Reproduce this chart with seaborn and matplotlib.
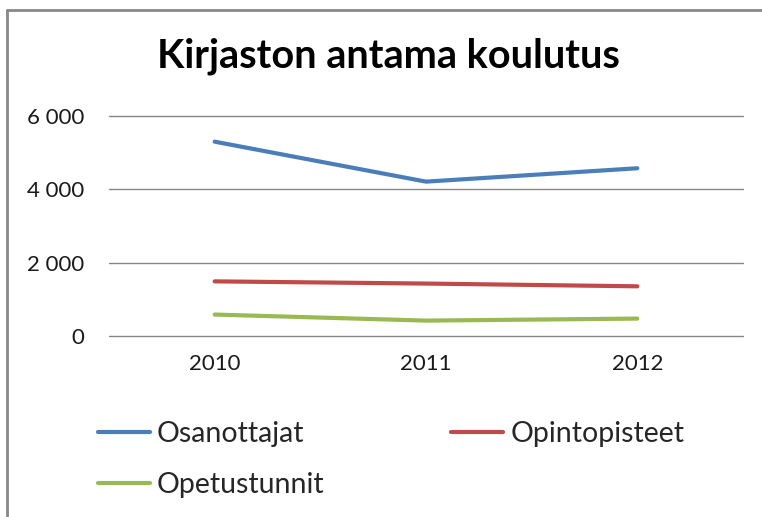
import pandas as pd
import matplotlib.pyplot as plt
import matplotlib.ticker as mticker
from matplotlib.lines import Line2D
import seaborn as sns

# ── Data ──────────────────────────────────────────────────────────────────────
years = [2010, 2011, 2012]
osanottajat = [5300, 4210, 4575]
opintopisteet = [1490, 1430, 1355]
opetustunnit = [585, 420, 475]

series = ["Osanottajat", "Opintopisteet", "Opetustunnit"]
colors = ["#4A7EBB", "#BE4B48", "#98B954"]

df = pd.DataFrame({
    "vuosi": years * 3,
    "arvo": osanottajat + opintopisteet + opetustunnit,
    "sarja": [s for s in series for _ in years],
})

# ── Style ─────────────────────────────────────────────────────────────────────
sns.set_theme(style="white")
plt.rcParams["font.family"] = ["Lato", "DejaVu Sans"]

W, H = 762, 517
fig = plt.figure(figsize=(W / 100, H / 100), dpi=100)
ax = fig.add_axes([109 / W, 1 - 336 / H, (743 - 109) / W, (336 - 116) / H])

sns.lineplot(data=df, x="vuosi", y="arvo", hue="sarja", hue_order=series,
             palette=colors, linewidth=3, ax=ax, legend=False)
for ln in ax.lines:
    ln.set_solid_capstyle("round")

ax.set_xlim(2009.5, 2012.5)
ax.set_ylim(0, 6000)
ax.set_xticks(years)
ax.set_xticklabels([str(y) for y in years])
ax.set_yticks([0, 2000, 4000, 6000])
ax.yaxis.set_major_formatter(mticker.FuncFormatter(lambda v, p: f"{int(v):,}".replace(",", " ")))
ax.set_xlabel("")
ax.set_ylabel("")
ax.grid(axis="y", color="#868686", linewidth=1)
ax.set_axisbelow(True)
for gl in ax.get_ygridlines():
    gl.set_clip_on(False)
for s in ax.spines.values():
    s.set_visible(False)
ax.tick_params(axis="y", labelsize=16, length=0, pad=18, colors="#1a1a1a")
ax.tick_params(axis="x", labelsize=16, length=0, pad=13, colors="#1a1a1a")

fig.text(388 / W, 1 - 56 / H, "Kirjaston antama koulutus", ha="center", va="center",
         fontsize=28.5, fontweight="bold", color="black")

# legend, Excel row-wise order
order = [0, 2, 1]
handles = [Line2D([], [], color=colors[i], linewidth=3, solid_capstyle="round") for i in order]
labels = [series[i] for i in order]
fig.legend(handles, labels, ncol=2, loc="upper left",
           bbox_to_anchor=(98 / W, 1 - 421 / H), frameon=False,
           borderpad=0, borderaxespad=0,
           fontsize=20.5, handlelength=1.82, handletextpad=0.25,
           columnspacing=4.45, labelspacing=0.88)

# chart border (left and top visible)
fig.add_artist(Line2D([7 / W, 7 / W], [0, 1 - 10 / H], transform=fig.transFigure,
                      color="#888888", linewidth=2))
fig.add_artist(Line2D([7 / W, 1], [1 - 10 / H, 1 - 10 / H], transform=fig.transFigure,
                      color="#888888", linewidth=2))

fig.savefig("out.png", dpi=100, facecolor="white")
